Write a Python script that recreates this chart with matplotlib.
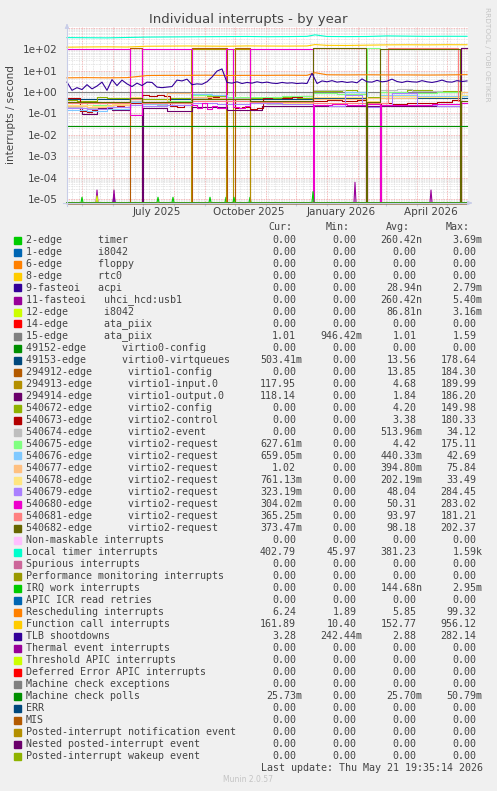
import datetime as dt
import numpy as np
import matplotlib
matplotlib.use('Agg')
import matplotlib.pyplot as plt
from matplotlib.patches import Rectangle
from matplotlib.ticker import FixedLocator, NullFormatter

# ---- data (x = days since 2025-04-16, y = interrupts / second) ----
start = dt.date(2025, 4, 16)

labels = [
    "2-edge      timer", "1-edge      i8042", "6-edge      floppy", "8-edge      rtc0",
    "9-fasteoi   acpi", "11-fasteoi   uhci_hcd:usb1", "12-edge      i8042",
    "14-edge      ata_piix", "15-edge      ata_piix", "49152-edge      virtio0-config",
    "49153-edge      virtio0-virtqueues", "294912-edge      virtio1-config",
    "294913-edge      virtio1-input.0", "294914-edge      virtio1-output.0",
    "540672-edge      virtio2-config", "540673-edge      virtio2-control",
    "540674-edge      virtio2-event", "540675-edge      virtio2-request",
    "540676-edge      virtio2-request", "540677-edge      virtio2-request",
    "540678-edge      virtio2-request", "540679-edge      virtio2-request",
    "540680-edge      virtio2-request", "540681-edge      virtio2-request",
    "540682-edge      virtio2-request", "Non-maskable interrupts", "Local timer interrupts",
    "Spurious interrupts", "Performance monitoring interrupts", "IRQ work interrupts",
    "APIC ICR read retries", "Rescheduling interrupts", "Function call interrupts",
    "TLB shootdowns", "Thermal event interrupts", "Threshold APIC interrupts",
    "Deferred Error APIC interrupts", "Machine check exceptions", "Machine check polls",
    "ERR", "MIS", "Posted-interrupt notification event", "Nested posted-interrupt event",
    "Posted-interrupt wakeup event",
]

cur = ['0.00', '0.00', '0.00', '0.00', '0.00', '0.00', '0.00', '0.00', '1.01', '0.00',
       '503.41m', '0.00', '117.95', '118.14', '0.00', '0.00', '0.00', '627.61m', '659.05m',
       '1.02', '761.13m', '323.19m', '304.02m', '365.25m', '373.47m', '0.00', '402.79',
       '0.00', '0.00', '0.00', '0.00', '6.24', '161.89', '3.28', '0.00', '0.00', '0.00',
       '0.00', '25.73m', '0.00', '0.00', '0.00', '0.00', '0.00']
mins = ['0.00'] * 8 + ['946.42m'] + ['0.00'] * 17 + ['45.97'] + ['0.00'] * 4 + \
       ['1.89', '10.40', '242.44m'] + ['0.00'] * 10
avgs = ['260.42n', '0.00', '0.00', '0.00', '28.94n', '260.42n', '86.81n', '0.00', '1.01',
        '0.00', '13.56', '13.85', '4.68', '1.84', '4.20', '3.38', '513.96m', '4.42',
        '440.33m', '394.80m', '202.19m', '48.04', '50.31', '93.97', '98.18', '0.00',
        '381.23', '0.00', '0.00', '144.68n', '0.00', '5.85', '152.77', '2.88', '0.00',
        '0.00', '0.00', '0.00', '25.70m', '0.00', '0.00', '0.00', '0.00', '0.00']
maxs = ['3.69m', '0.00', '0.00', '0.00', '2.79m', '5.40m', '3.16m', '0.00', '1.59', '0.00',
        '178.64', '184.30', '189.99', '186.20', '149.98', '180.33', '34.12', '175.11',
        '42.69', '75.84', '33.49', '284.45', '283.02', '181.21', '202.37', '0.00', '1.59k',
        '0.00', '0.00', '2.95m', '0.00', '99.32', '956.12', '282.14', '0.00', '0.00',
        '0.00', '0.00', '50.79m', '0.00', '0.00', '0.00', '0.00', '0.00']

colors = ['#00CC00', '#0066B3', '#FF8000', '#FFCC00', '#330099', '#990099', '#CCFF00',
          '#FF0000', '#808080', '#008F00', '#00487D', '#B35A00', '#B38F00', '#6B006B',
          '#8FB300', '#B30000', '#BEBEBE', '#80FF80', '#80C9FF', '#FFC080', '#FFE680',
          '#AA80FF', '#EE00CC', '#FF8080', '#666600', '#FFBFFF', '#00FFCC', '#CC6699',
          '#999900', '#00CC00', '#0066B3', '#FF8000', '#FFCC00', '#330099', '#990099',
          '#CCFF00', '#FF0000', '#808080', '#008F00', '#00487D', '#B35A00', '#B38F00',
          '#6B006B', '#8FB300']

zero_days = [0, 400]
zero_vals = [0, 0]

# short single-day spikes near the bottom
timer_spike_days = [15, 106, 159, 183]
timer_spike_vals = [1.2e-5, 1.2e-5, 1.2e-5, 1.2e-5]
acpi_spike_days = [47]
acpi_spike_vals = [1.6e-5]
uhci_spike_days = [30, 47, 288, 364]
uhci_spike_vals = [2.6e-5, 2.6e-5, 6e-5, 2.6e-5]
i8042_spike_days = [30]
i8042_spike_vals = [1.4e-5]
irqwork_spike_days = [91, 143, 167, 246]
irqwork_spike_vals = [1.2e-5, 1.2e-5, 1.2e-5, 2.2e-5]

ata15_days = [0, 60, 120, 180, 240, 300, 360, 400]
ata15_vals = [1.0, 1.01, 1.02, 1.0, 1.01, 1.0, 1.01, 1.01]
vq0_days = [0, 246, 400]
vq0_vals = [0.45, 0.5, 0.5]
v1cfg_days = [0, 63, 75, 125, 160, 168, 183, 400]
v1cfg_vals = [0, 110, 0, 110, 0, 110, 0, 0]
v1in_days = [0, 124, 159, 166, 183, 394, 400]
v1in_vals = [0, 100, 0, 100, 0, 118, 118]
v1out_days = [0, 15, 30, 45, 63, 75, 76, 100, 125, 160, 195, 394, 400]
v1out_vals = [0.2, 0.09, 0.17, 0.15, 0.3, 0, 0.18, 0.13, 0.2, 0.15, 0.22, 118, 118]
v2cfg_days = [0, 10, 20, 30, 40, 50, 63, 75, 90, 103, 115, 125, 140, 160, 183, 200, 215,
              230, 246, 260, 275, 290, 300, 313, 325, 340, 355, 365, 380, 394, 400]
v2cfg_vals = [0.42, 0.4, 0.38, 0.58, 0.55, 0.5, 0.5, 0.45, 0.48, 0.52, 0.5, 0.7, 0.65, 0.55,
              0.5, 0.55, 0.6, 0.52, 1.15, 1.1, 1.2, 1.05, 0.6, 1.0, 1.05, 1.25, 1.3, 1.1,
              1.15, 0, 0]
v2ctl_days = [0, 5, 10, 13, 20, 25, 30, 36, 43, 50, 57, 63, 75, 82, 90, 97, 103, 110, 117,
              125, 135, 145, 152, 160, 168, 175, 183, 190, 196, 205, 215, 225, 235, 246, 260,
              275, 290, 299, 300, 313, 314, 325, 340, 355, 370, 385, 394, 400]
v2ctl_vals = [0.52, 0.55, 0.5, 0.13, 0.12, 0.15, 0.24, 0.26, 0.2, 0.22, 0.19, 0.3, 0.7,
              0.65, 0.72, 0.68, 0.22, 0.2, 0.24, 0.55, 0.5, 0.58, 0.52, 0.5, 0.18, 0.2, 0.16,
              0.18, 0.55, 0.6, 0.52, 0.58, 0.62, 0.4, 0.42, 0.38, 0.41, 0, 0.3, 0, 0.3, 0.27,
              0.32, 0.3, 0.35, 0.42, 0, 0]
v2evt_days = [0, 15, 30, 45, 63, 75, 90, 105, 125, 140, 160, 183, 200, 220, 246, 262, 278,
              290, 300, 313, 330, 345, 360, 375, 394, 400]
v2evt_vals = [0.2, 0.17, 0.22, 0.19, 0.4, 0.28, 0.25, 0.3, 0.5, 0.45, 0.5, 0.3, 0.27, 0.32,
              1.2, 1.25, 1.0, 1.05, 0.35, 1.2, 1.4, 1.1, 1.15, 1.05, 0, 0]
rq675_days = [0, 20, 40, 63, 75, 100, 125, 145, 160, 183, 215, 246, 270, 300, 313, 340,
              370, 394, 400]
rq675_vals = [0.3, 0.26, 0.34, 0.45, 0.35, 0.4, 0.75, 0.7, 0.6, 0.6, 0.66, 0.9, 0.85, 110,
              0.95, 0.9, 1.0, 0.63, 0.63]
rq676_days = [0, 20, 40, 63, 75, 100, 125, 145, 160, 183, 215, 246, 278, 300, 313, 350,
              394, 400]
rq676_vals = [0.15, 0.13, 0.16, 0.35, 0.27, 0.3, 0.8, 0.75, 0.4, 0.3, 0.28, 0.45, 1.0, 0.3,
              0.7, 0.65, 0.66, 0.66]
rq677_days = [0, 20, 40, 63, 75, 100, 125, 145, 160, 183, 215, 246, 300, 313, 350, 394, 400]
rq677_vals = [0.22, 0.2, 0.25, 0.6, 0.3, 0.9, 0.6, 0.55, 0.4, 0.35, 0.38, 0.45, 0.5, 0.55,
              0.6, 1.02, 1.02]
rq678_days = [0, 25, 45, 63, 75, 100, 125, 183, 215, 246, 300, 313, 350, 394, 400]
rq678_vals = [0.25, 0.22, 0.27, 0.6, 0.3, 0.33, 0.45, 0.35, 0.32, 0.6, 0.4, 0.65, 0.6, 0.76,
              0.76]
rq679_days = [0, 20, 40, 63, 75, 100, 125, 150, 183, 215, 246, 262, 278, 295, 300, 313,
              325, 350, 370, 394, 400]
rq679_vals = [0.18, 0.16, 0.2, 0.25, 0.22, 0.24, 0.3, 0.27, 0.3, 0.28, 0.25, 0.23, 0.7, 0.25,
              0.2, 0.25, 0.9, 0.25, 0.23, 0.32, 0.32]
rq680_days = [0, 63, 75, 125, 130, 135, 140, 145, 150, 159, 166, 172, 178, 183, 246, 247,
              265, 280, 299, 300, 313, 314, 340, 365, 393, 394, 400]
rq680_vals = [105, 0.08, 105, 0.25, 0.17, 0.3, 0.16, 0.22, 0.18, 105, 0.2, 0.17, 0.22, 105,
              0, 0.25, 0.27, 0.24, 0, 0.28, 0, 0.26, 0.24, 0.27, 0, 0.3, 0.3]
rq681_days = [0, 63, 75, 125, 183, 246, 321, 391, 400]
rq681_vals = [0.3, 0.45, 0.3, 0.4, 0.35, 0.3, 118, 0.365, 0.365]
rq682_days = [0, 63, 75, 125, 183, 246, 299, 300, 313, 393, 394, 400]
rq682_vals = [0.33, 0.5, 0.35, 0.45, 0.4, 110, 0, 0.35, 108, 0, 0.37, 0.37]
mcp_days = [0, 400]
mcp_vals = [0.0257, 0.0257]

loc_days = [0, 20, 40, 60, 80, 100, 120, 140, 160, 180, 200, 220, 240, 248, 260, 280, 300,
            320, 340, 360, 380, 400]
loctimer_vals = [350, 345, 340, 355, 370, 375, 380, 385, 390, 395, 385, 390, 400, 470, 395,
                 390, 395, 420, 410, 400, 405, 403]
funccall_vals = [125, 128, 130, 127, 138, 140, 142, 140, 138, 143, 141, 140, 142, 165, 152,
                 150, 155, 160, 162, 160, 163, 162]
resched_vals = [4.6, 4.7, 4.6, 4.7, 5.9, 6.0, 6.0, 6.1, 5.9, 6.0, 6.0, 6.1, 6.0, 8.0, 6.4,
                6.3, 6.4, 6.3, 6.3, 6.2, 6.3, 6.5]
tlb_days = list(range(0, 401, 5))
tlb_vals = [2.9, 1.2, 1.6, 1.3, 2.2, 1.4, 1.9, 2.9, 1.2, 3.8, 2.0, 3.6, 2.4, 1.8, 2.6, 2.0,
            2.9, 2.8, 1.7, 1.6, 1.7, 1.8, 3.6, 3.3, 4.0, 2.2, 2.4, 2.3, 3.0, 5.0, 9.5, 12.0,
            2.8, 2.6, 3.0, 2.5, 2.8, 2.6, 3.0, 2.7, 2.9, 2.6, 2.5, 2.8, 2.6, 2.7, 2.5, 2.6,
            2.5, 7.5, 2.5, 3.3, 3.0, 3.4, 2.9, 3.1, 2.8, 3.0, 2.7, 4.1, 3.0, 2.9, 3.5, 3.0,
            3.2, 4.0, 3.1, 2.8, 3.2, 3.0, 2.9, 3.4, 3.0, 2.8, 3.1, 3.6, 3.0, 2.9, 3.4, 3.1, 3.3]

step_series = {8: (ata15_days, ata15_vals), 10: (vq0_days, vq0_vals),
               11: (v1cfg_days, v1cfg_vals), 12: (v1in_days, v1in_vals),
               13: (v1out_days, v1out_vals), 14: (v2cfg_days, v2cfg_vals),
               15: (v2ctl_days, v2ctl_vals), 16: (v2evt_days, v2evt_vals),
               17: (rq675_days, rq675_vals), 18: (rq676_days, rq676_vals),
               19: (rq677_days, rq677_vals), 20: (rq678_days, rq678_vals),
               21: (rq679_days, rq679_vals), 22: (rq680_days, rq680_vals),
               23: (rq681_days, rq681_vals), 24: (rq682_days, rq682_vals),
               38: (mcp_days, mcp_vals)}
line_series = {26: (loc_days, loctimer_vals), 31: (loc_days, resched_vals),
               32: (loc_days, funccall_vals), 33: (tlb_days, tlb_vals)}
spike_series = {0: (timer_spike_days, timer_spike_vals), 4: (acpi_spike_days, acpi_spike_vals),
                5: (uhci_spike_days, uhci_spike_vals), 6: (i8042_spike_days, i8042_spike_vals),
                29: (irqwork_spike_days, irqwork_spike_vals)}

# ---- figure ----
W, H = 497, 791
fig = plt.figure(figsize=(W / 100, H / 100), dpi=100, facecolor='#F0F0F0')


def fx(px):
    return px / W


def fy(py):
    return 1 - py / H


ax = fig.add_axes([fx(67), fy(203), (468 - 67) / W, (203 - 27) / H])
ax.set_facecolor('white')
ymin, ymax = 10 ** -5.19, 10 ** 3.04
floor = 10 ** -5.17
ax.set_yscale('log')
ax.set_xlim(0, 401)
ax.set_ylim(ymin, ymax)

for i in range(len(labels)):
    c = colors[i]
    if i in step_series:
        d, v = step_series[i]
        ax.plot(d, np.maximum(v, floor), color=c, lw=0.8, drawstyle='steps-post', clip_on=False)
    elif i in line_series:
        d, v = line_series[i]
        ax.plot(d, np.maximum(v, floor), color=c, lw=0.8, clip_on=False)
    elif i in spike_series:
        sd, sv = spike_series[i]
        xs, ys = [0], [0]
        for d, h in zip(sd, sv):
            xs += [d - 1, d, d + 1]
            ys += [0, h, 0]
        xs.append(400)
        ys.append(0)
        ax.plot(xs, np.maximum(ys, floor), color=c, lw=0.8, clip_on=False)
    else:
        ax.plot(zero_days, np.maximum(zero_vals, floor), color=c, lw=0.8, clip_on=False)

# grid
month_starts = [(dt.date(2025 + (m - 1) // 12, (m - 1) % 12 + 1, 1) - start).days
                for m in range(5, 18)]
weeks = list(range(5, 401, 7))
decades = [10.0 ** k for k in range(-5, 4)]
minors = [m * 10.0 ** k for k in range(-6, 3) for m in range(2, 10)]
ax.xaxis.set_major_locator(FixedLocator(month_starts))
ax.xaxis.set_minor_locator(FixedLocator(weeks))
ax.xaxis.set_major_formatter(NullFormatter())
ax.yaxis.set_major_locator(FixedLocator(decades))
ax.yaxis.set_minor_locator(FixedLocator(minors))
ax.yaxis.set_minor_formatter(NullFormatter())
ax.set_yticklabels(['%.0e' % v if v < 500 else '' for v in decades])
ax.set_axisbelow(True)
ax.grid(which='minor', color='#DDDDDD', lw=0.6, ls=(0, (1, 1)))
ax.grid(which='major', color='#F0A0A0', lw=0.6, ls=(0, (1, 1)))
ax.tick_params(which='both', length=0)
ax.tick_params(axis='y', labelsize=7.5, labelcolor='#444444', pad=7)
ax.tick_params(axis='x', which='major', length=2, color='#C8CDE0')
for s in ax.spines.values():
    s.set_visible(False)

for name, day in [('July 2025', dt.date(2025, 7, 15)), ('October 2025', dt.date(2025, 10, 15)),
                  ('January 2026', dt.date(2026, 1, 15)), ('April 2026', dt.date(2026, 4, 15))]:
    ax.text((day - start).days, -0.05, name, transform=ax.get_xaxis_transform(),
            ha='center', va='center', fontsize=7.5, color='#444444')

# axis arrows
arrow = dict(arrowstyle='-|>', color='#C8CDE8', lw=0.8, mutation_scale=6)
fig.add_artist(plt.Line2D([fx(67), fx(67)], [fy(206), fy(28)], color='#C8CDE8', lw=0.8))
ax.annotate('', xy=(fx(67), fy(21)), xytext=(fx(67), fy(28)), xycoords='figure fraction',
            textcoords='figure fraction', arrowprops=arrow)
fig.add_artist(plt.Line2D([fx(63), fx(468)], [fy(203), fy(203)], color='#C8CDE8', lw=0.8))
ax.annotate('', xy=(fx(475), fy(203)), xytext=(fx(468), fy(203)), xycoords='figure fraction',
            textcoords='figure fraction', arrowprops=arrow)

# titles
fig.text(fx(248.5), fy(19), 'Individual interrupts - by year', ha='center', va='center',
         fontsize=9.5, color='#444444')
fig.text(fx(11), fy(115), 'interrupts / second', rotation=90, ha='center', va='center',
         fontsize=7.5, color='#444444')
fig.text(fx(487), fy(54), 'RRDTOOL / TOBI OETIKER', rotation=270, ha='center', va='center',
         fontsize=5.3, color='#C4C4C4')

# legend table
mono = 'DejaVu Sans Mono'
fs = 7.2
cw = 6.0
col_right = [302, 362.7, 422.7, 482.7]
for name, x in zip(['Cur:', 'Min:', 'Avg:', 'Max:'], [292, 350, 410, 470]):
    fig.text(fx(x), fy(227), name, ha='right', va='center', family=mono, fontsize=fs,
             color='#444444')
for i, lab in enumerate(labels):
    y = 240 + 12 * i
    fig.add_artist(Rectangle((fx(14), fy(y + 3.5)), 7 / W, 7 / H, color=colors[i],
                             transform=fig.transFigure))
    fig.text(fx(26), fy(y), lab, ha='left', va='center', family=mono, fontsize=fs,
             color='#444444')
    for col, vals in zip(col_right, [cur, mins, avgs, maxs]):
        s = vals[i]
        xr = col if s[-1].isalpha() else col - cw
        fig.text(fx(xr), fy(y), s, ha='right', va='center', family=mono, fontsize=fs,
                 color='#444444')

fig.text(fx(482.7), fy(768), 'Last update: Thu May 21 19:35:14 2026', ha='right', va='center',
         family=mono, fontsize=fs, color='#444444')
fig.text(fx(248), fy(780), 'Munin 2.0.57', ha='center', va='center', fontsize=5.5,
         color='#C4C4C4')

fig.savefig('out.png', dpi=100, facecolor=fig.get_facecolor())
